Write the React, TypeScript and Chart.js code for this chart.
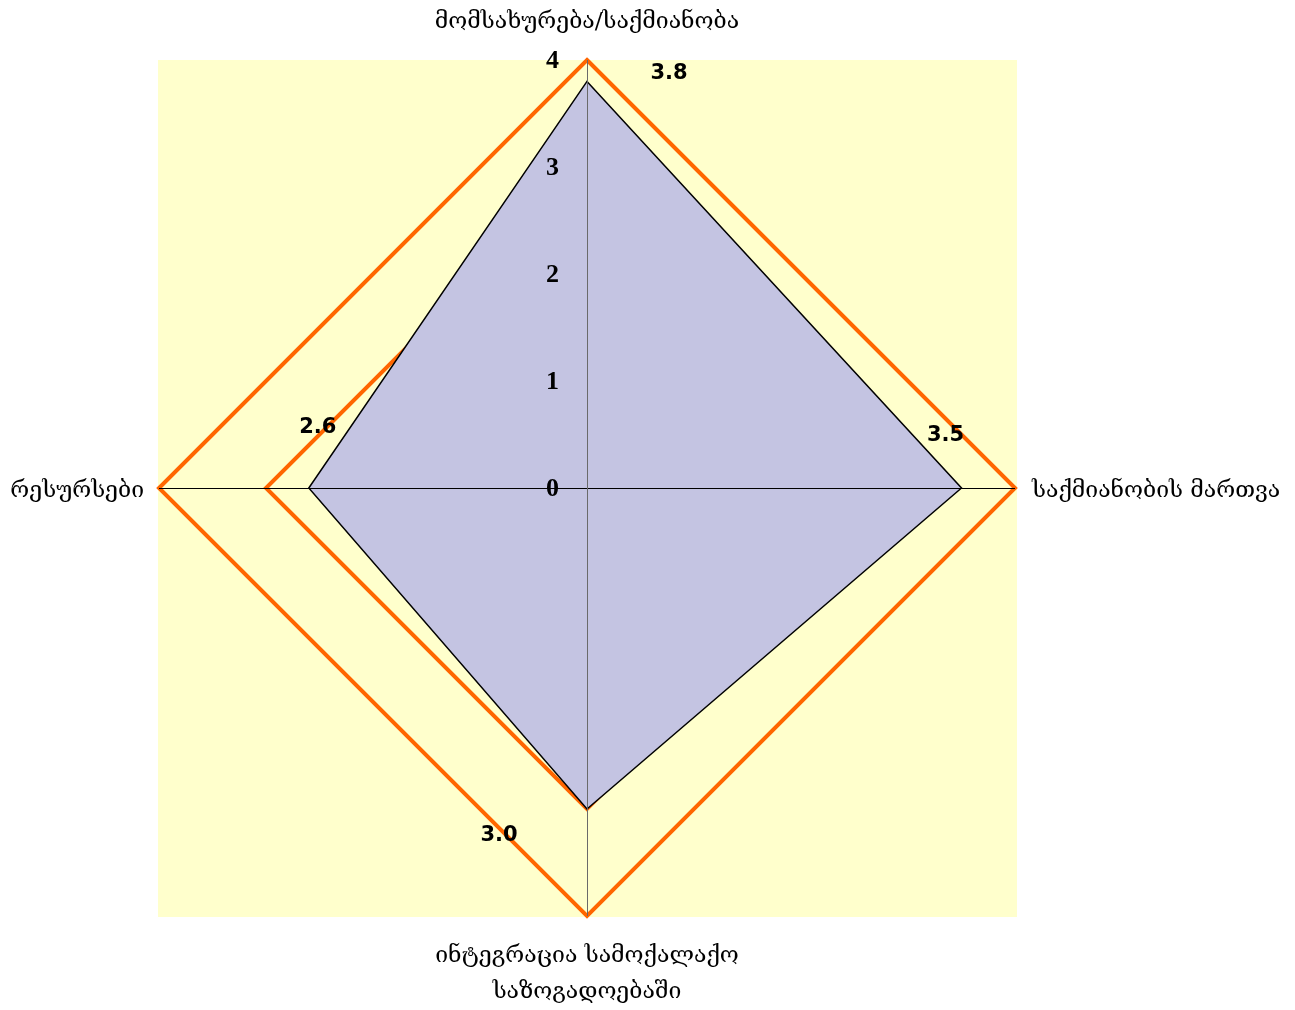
import React, { useEffect, useRef } from "react";
import { Chart, registerables } from "chart.js";

Chart.register(...registerables);

const categories: string[][] = [
  ["მომსახურება/საქმიანობა"],
  ["საქმიანობის მართვა"],
  ["ინტეგრაცია სამოქალაქო", "საზოგადოებაში"],
  ["რესურსები"],
];
const scores: number[] = [3.8, 3.5, 3.0, 2.6];
const maxLevel: number[] = [4, 4, 4, 4];
const midLevel: number[] = [3, 3, 3, 3];
const tickValues: number[] = [0, 1, 2, 3, 4];
const scoreLabels: string[] = ["3.8", "3.5", "3.0", "2.6"];

const GEO_FONT = '"DejaVu Serif", "DejaVu Sans", serif';

const decorPlugin = {
  id: "decor",
  beforeDraw(chart: any) {
    const r = chart.scales.r;
    const ctx = chart.ctx;
    ctx.save();
    ctx.fillStyle = "#FFFFCC";
    ctx.fillRect(r.xCenter - r.drawingArea - 1, r.yCenter - r.drawingArea, r.drawingArea * 2 + 3, r.drawingArea * 2 + 1);
    ctx.restore();
  },
  afterDatasetsDraw(chart: any) {
    const r = chart.scales.r;
    const ctx = chart.ctx;
    ctx.save();
    ctx.lineWidth = 1;
    for (let i = 0; i < categories.length; i++) {
      const p = r.getPointPositionForValue(i, 4);
      ctx.strokeStyle = i % 2 === 0 ? "#6a6a6a" : "#000";
      ctx.beginPath();
      if (i % 2 === 0) {
        ctx.moveTo(r.xCenter + 0.5, r.yCenter);
        ctx.lineTo(p.x + 0.5, p.y);
      } else {
        ctx.moveTo(r.xCenter, r.yCenter + 0.5);
        ctx.lineTo(p.x, p.y + 0.5);
      }
      ctx.stroke();
    }
    ctx.restore();
  },
  afterDraw(chart: any) {
    const r = chart.scales.r;
    const ctx = chart.ctx;
    ctx.save();
    // tick labels
    ctx.font = 'bold 26px "Liberation Serif", serif';
    ctx.fillStyle = "#000";
    ctx.textAlign = "right";
    ctx.textBaseline = "middle";
    tickValues.forEach((v) => {
      const y = r.yCenter - r.getDistanceFromCenterForValue(v);
      ctx.fillText(String(v), r.xCenter - 28, y + 1);
    });
    // data labels
    const offsets = [
      [82, -8],
      [-16, -52],
      [-88, 27],
      [9, -60],
    ];
    ctx.font = 'bold 21px "DejaVu Sans", sans-serif';
    ctx.textAlign = "center";
    scores.forEach((v, i) => {
      const p = r.getPointPositionForValue(i, v);
      ctx.fillText(scoreLabels[i], p.x + offsets[i][0], p.y + offsets[i][1]);
    });
    // point labels
    ctx.font = "23px " + GEO_FONT;
    const outer = (i: number) => r.getPointPositionForValue(i, 4);
    let p = outer(0);
    ctx.textAlign = "center";
    ctx.fillText(categories[0][0], p.x, p.y - 38);
    p = outer(1);
    ctx.textAlign = "left";
    ctx.fillText(categories[1][0], p.x + 17, p.y + 3);
    p = outer(2);
    ctx.textAlign = "center";
    categories[2].forEach((t, k) => ctx.fillText(t, p.x, p.y + 40 + k * 36));
    p = outer(3);
    ctx.textAlign = "right";
    ctx.fillText(categories[3][0], p.x - 15, p.y + 3);
    ctx.restore();
  },
};

export default function App() {
  const ref = useRef<HTMLCanvasElement | null>(null);
  useEffect(() => {
    if (!ref.current) return;
    const chart = new Chart(ref.current, {
      type: "radar",
      data: {
        labels: categories.map((c) => c.join(" ")),
        datasets: [
          {
            label: "score",
            data: scores,
            backgroundColor: "rgb(196,196,226)",
            borderColor: "#000",
            borderWidth: 1.5,
            fill: true,
            pointRadius: 0,
          },
          {
            label: "level3",
            data: midLevel,
            borderColor: "#FF6600",
            borderWidth: 4,
            fill: false,
            pointRadius: 0,
            borderJoinStyle: "miter",
          },
          {
            label: "max",
            data: maxLevel,
            borderColor: "#FF6600",
            borderWidth: 4,
            fill: false,
            pointRadius: 0,
            borderJoinStyle: "miter",
          },
        ],
      },
      options: {
        responsive: false,
        animation: false,
        layout: { padding: { left: 159, right: 280, top: 60, bottom: 94 } },
        plugins: { legend: { display: false }, tooltip: { enabled: false } },
        elements: { line: { tension: 0 } },
        scales: {
          r: {
            min: 0,
            max: 4,
            ticks: { display: false, stepSize: 1 },
            grid: { display: false },
            pointLabels: { display: false },
            angleLines: { display: false },
          },
        },
      },
      plugins: [decorPlugin],
    });
    return () => chart.destroy();
  }, []);
  return (
    <div style={{ position: "absolute", left: 0, top: 0, width: 1295, height: 1010 }}>
      <canvas ref={ref} width={1295} height={1010} style={{ width: 1295, height: 1010, display: "block" }} />
    </div>
  );
}
